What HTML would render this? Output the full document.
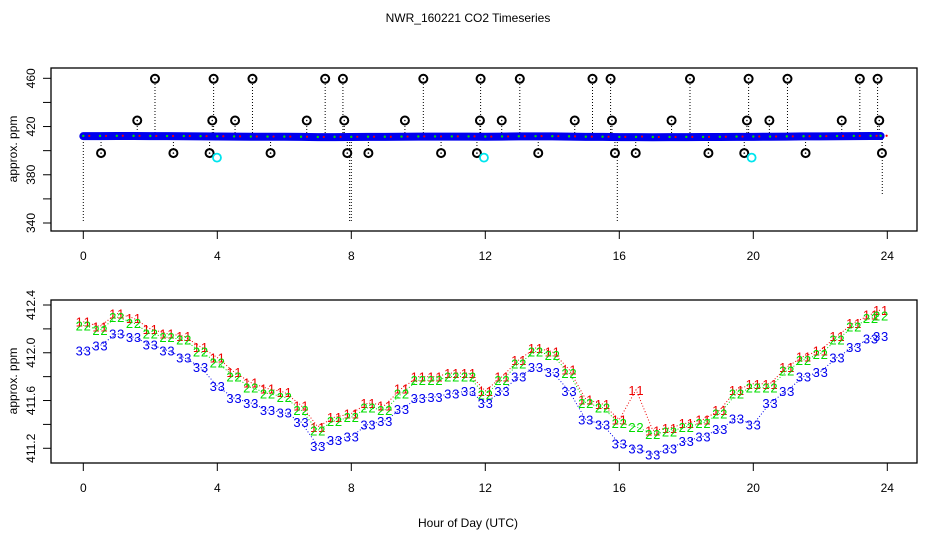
<!DOCTYPE html>
<html><head><meta charset="utf-8"><style>
html,body{margin:0;padding:0;background:#fff}
svg{display:block;font-family:"Liberation Sans",sans-serif}
</style></head><body>
<svg id="chart" width="936" height="540" viewBox="0 0 936 540" xmlns="http://www.w3.org/2000/svg">
<text x="468" y="22" text-anchor="middle" font-size="12">NWR_160221  CO2 Timeseries</text>
<text x="468" y="527" text-anchor="middle" font-size="12">Hour of Day (UTC)</text>
<text transform="translate(17,149) rotate(-90)" text-anchor="middle" font-size="12">approx. ppm</text>
<text transform="translate(17,381) rotate(-90)" text-anchor="middle" font-size="12">approx. ppm</text>
<g id="topPanel"></g>
<g id="botPanel"></g>
</svg>
<script>
const hours = [0,0.5,1,1.5,2,2.5,3,3.5,4,4.5,5,5.5,6,6.5,7,7.5,8,8.5,9,9.5,10,10.5,11,11.5,12,12.5,13,13.5,14,14.5,15,15.5,16,16.5,17,17.5,18,18.5,19,19.5,20,20.5,21,21.5,22,22.5,23,23.5,23.8];
const series1 = [412.26,412.22,412.33,412.29,412.20,412.16,412.14,412.05,411.96,411.84,411.75,411.70,411.67,411.56,411.38,411.46,411.49,411.58,411.56,411.70,411.80,411.80,411.83,411.83,411.68,411.80,411.94,412.04,412.01,411.86,411.61,411.57,411.44,411.69,411.35,411.37,411.41,411.44,411.52,411.69,411.74,411.74,411.88,411.97,412.02,412.14,412.25,412.32,412.36];
const series2 = [412.23,412.19,412.30,412.25,412.16,412.13,412.11,412.01,411.92,411.80,411.71,411.66,411.63,411.52,411.35,411.43,411.46,411.54,411.52,411.66,411.77,411.77,411.80,411.80,411.65,411.77,411.91,412.01,411.98,411.83,411.58,411.54,411.41,411.38,411.32,411.34,411.38,411.41,411.49,411.66,411.71,411.71,411.85,411.94,411.99,412.11,412.22,412.29,412.31];
const series3 = [412.02,412.06,412.16,412.13,412.07,412.02,411.96,411.88,411.72,411.62,411.58,411.52,411.50,411.42,411.22,411.27,411.30,411.40,411.43,411.53,411.62,411.63,411.66,411.68,411.58,411.68,411.80,411.88,411.84,411.68,411.44,411.40,411.24,411.20,411.15,411.20,411.26,411.30,411.36,411.45,411.40,411.58,411.68,411.80,411.84,411.96,412.05,412.12,412.14];
const outlierHours = [2.14,3.89,5.05,7.22,7.75,10.15,11.86,13.03,15.2,15.74,18.11,19.86,21.02,23.18,23.71, 1.61,3.85,4.53,6.67,7.79,9.6,11.84,12.49,14.67,15.78,17.56,19.81,20.48,22.64,23.76, 0.53,2.69,3.77,5.59,7.88,8.51,10.68,11.75,13.58,15.87,16.49,18.66,19.73,21.56,23.84];
const outlierValues = [459.6,459.6,459.6,459.6,459.6,459.6,459.6,459.6,459.6,459.6,459.6,459.6,459.6,459.6,459.6, 425,425,425,425,425,425,425,425,425,425,425,425,425,425,425, 398,398,398,398,398,398,398,398,398,398,398,398,398,398,398];
const flaggedHours = [3.99,11.96,19.95];
const flaggedValues = [394.2,394.2,394.2];
const dropHours = [0,7.95,8.0,15.94,23.85];
const dropValues = [340,340,340,340,364];
const xTicks = [0,4,8,12,16,20,24];
const topYTicks = [340,360,380,400,420,440,460];
const topYLabels = ["340","","380","","420","","460"];
const botYTicks = [411.2,411.4,411.6,411.8,412.0,412.2,412.4];
const botYLabels = ["411.2","","411.6","","412.0","","412.4"];

const NS="http://www.w3.org/2000/svg";
function mk(parent,tag,attrs){const e=document.createElementNS(NS,tag);for(const k in attrs)e.setAttribute(k,attrs[k]);parent.appendChild(e);return e;}
const xS = h => 83.3 + h*33.5;
const yTop = v => 223 - (v-340)*1.2058;
const yBot = v => 305 + (412.4-v)*119.4;

function axes(g, x0,y0,x1,y1, yScale, yT, yL, pfx){
  const box=mk(g,'rect',{x:x0,y:y0,width:x1-x0,height:y1-y0,fill:'none',stroke:'#000','stroke-width':1.3});
  
  
  xTicks.forEach(t=>{
    const l=mk(g,'line',{x1:xS(t),x2:xS(t),y1:y1,y2:y1+8,stroke:'#000','stroke-width':1});
    
    
    const tx=mk(g,'text',{x:xS(t),y:y1+29,'text-anchor':'middle','font-size':12});
    
    
    tx.textContent=t;
  });
  yT.forEach((t,i)=>{
    const y=yScale(t);
    const l=mk(g,'line',{x1:x0-8,x2:x0,y1:y,y2:y,stroke:'#000','stroke-width':1});
    
    
    if(yL[i]){
      const tx=mk(g,'text',{transform:`translate(35,${y}) rotate(-90)`,'text-anchor':'middle','font-size':12});
      
      
      tx.textContent=yL[i];
    }
  });
}

const topG=document.getElementById('topPanel');


axes(topG,51,68,917,231,yTop,topYTicks,topYLabels,'top');
const bandV = 412.2;
outlierHours.forEach((h,i)=>{
  const l=mk(topG,'line',{x1:xS(h),x2:xS(h),y1:yTop(bandV),y2:yTop(outlierValues[i]),stroke:'#000','stroke-width':1,'stroke-dasharray':'1,2'});
  
  
});
dropHours.forEach((h,i)=>{
  const l=mk(topG,'line',{x1:xS(h),x2:xS(h),y1:yTop(bandV),y2:yTop(dropValues[i]),stroke:'#000','stroke-width':1,'stroke-dasharray':'1,2'});
  
  
});
const bandPts = hours.map((h,i)=>`${xS(h)},${yTop(series3[i])}`).join(' ');
const band=mk(topG,'polyline',{points:bandPts,fill:'none',stroke:'#0000ee','stroke-width':8,'stroke-linecap':'round'});


hours.forEach((h,i)=>{
  const c=mk(topG,'circle',{cx:xS(h),cy:yTop(series2[i]),r:1.2,fill:'#00dd00'});
  
  
  const c2=mk(topG,'circle',{cx:xS(h)+6,cy:yTop(series1[i]),r:1.1,fill:'#ee0000'});
  
  
});
outlierHours.forEach((h,i)=>{
  const c=mk(topG,'circle',{cx:xS(h),cy:yTop(outlierValues[i]),r:4,fill:'#fff',stroke:'#000','stroke-width':2});
  
  
  const d=mk(topG,'circle',{cx:xS(h),cy:yTop(outlierValues[i]),r:0.8,fill:'#000'});
  
  
});
flaggedHours.forEach((h,i)=>{
  const c=mk(topG,'circle',{cx:xS(h),cy:yTop(flaggedValues[i]),r:4,fill:'none',stroke:'#00e5ee','stroke-width':1.8});
  
  
});

const botG=document.getElementById('botPanel');


axes(botG,51,300,917,463,yBot,botYTicks,botYLabels,'bottom');
const sets=[[series1,'#ee0000','1','series-1'],[series2,'#00dd00','2','series-2'],[series3,'#0000ee','3','series-3']];
sets.forEach(([s,col,ch,nm])=>{
  const pts=hours.map((h,i)=>`${xS(h)},${yBot(s[i])}`).join(' ');
  const pl=mk(botG,'polyline',{points:pts,fill:'none',stroke:col,'stroke-width':1,'stroke-dasharray':'1,2'});
  
  
  hours.forEach((h,i)=>{
    [-4,4].forEach(dx=>{
      const t=mk(botG,'text',{x:xS(h)+dx,y:yBot(s[i])+5,'text-anchor':'middle','font-size':13,fill:col});
      
      
      t.textContent=ch;
    });
  });
});
</script>
</body></html>
